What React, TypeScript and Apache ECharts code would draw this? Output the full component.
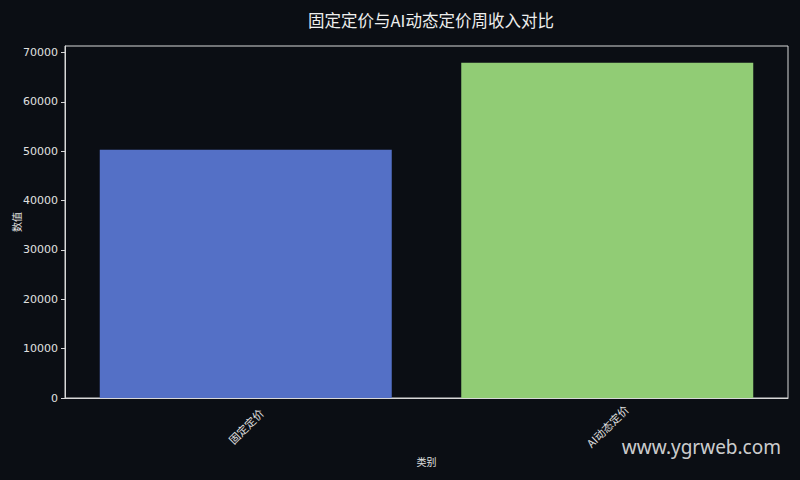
import React, { useEffect, useRef } from "react";
import * as echarts from "echarts";

const categories = ["固定定价", "AI动态定价"];
const values = [50300, 67900];
const barColors = ["#5470c6", "#91cc75"];
const yTicks = { min: 0, max: 71300, interval: 10000 };

export default function App() {
  const ref = useRef<HTMLDivElement>(null);
  useEffect(() => {
    const chart = echarts.init(ref.current!, null, { renderer: "svg" });
    const textColor = "#e0e0e0";
    const font = "'Noto Sans CJK SC', 'Noto Sans', sans-serif";
    chart.setOption({
      animation: false,
      backgroundColor: "#0b0e14",
      textStyle: { fontFamily: font },
      title: {
        text: "固定定价与AI动态定价周收入对比",
        left: 426,
        textAlign: "center",
        top: 7,
        textStyle: { color: "#eeeeee", fontSize: 16.5, fontWeight: "normal", fontFamily: font },
      },
      grid: {
        left: 65,
        right: 12,
        top: 46,
        bottom: 82,
        outerBoundsMode: "none",
        containLabel: false,
        show: true,
        borderColor: "#d8d8d8",
        borderWidth: 1,
        backgroundColor: "transparent",
      },
      xAxis: {
        type: "category",
        data: categories,
        name: "类别",
        nameLocation: "middle",
        nameGap: 58,
        nameMoveOverlap: false,
        nameTextStyle: { color: textColor, fontSize: 10, fontFamily: font },
        axisLine: { lineStyle: { color: "#d8d8d8" } },
        axisTick: { alignWithLabel: true, length: 4, lineStyle: { color: "#d8d8d8" } },
        axisLabel: {
          rotate: 45,
          align: "center",
          verticalAlign: "middle",
          color: textColor,
          fontSize: 11,
          margin: 28,
          fontFamily: font,
        },
      },
      yAxis: {
        type: "value",
        min: yTicks.min,
        max: yTicks.max,
        interval: yTicks.interval,
        name: "数值",
        nameLocation: "middle",
        nameGap: 44,
        nameMoveOverlap: false,
        nameTextStyle: { color: textColor, fontSize: 10, fontFamily: font },
        splitLine: { show: false },
        axisLine: { show: true, lineStyle: { color: "#d8d8d8" } },
        axisTick: { show: true, length: 4, lineStyle: { color: "#d8d8d8" } },
        axisLabel: {
          color: textColor,
          fontSize: 11,
          margin: 7,
          showMaxLabel: false,
          formatter: (v: number) => String(v),
          fontFamily: "'DejaVu Sans', sans-serif",
        },
      },
      series: [
        {
          type: "bar",
          barWidth: 292,
          data: values.map((v, i) => ({ value: v, itemStyle: { color: barColors[i] } })),
        },
      ],
      graphic: [
        {
          type: "text",
          right: 19,
          top: 437,
          style: {
            text: "www.ygrweb.com",
            fill: "rgba(230,230,230,0.9)",
            fontSize: 19,
            fontFamily: "'Noto Sans', sans-serif",
          },
        },
      ],
    });
    return () => chart.dispose();
  }, []);
  return <div ref={ref} style={{ width: 800, height: 480, position: "fixed", left: 0, top: 0 }} />;
}
